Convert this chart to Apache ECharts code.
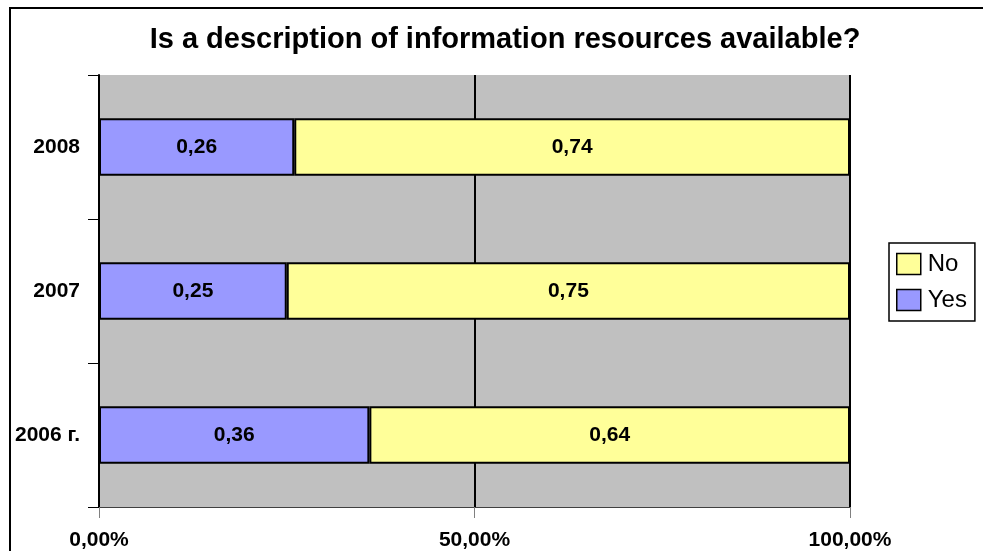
<!DOCTYPE html>
<html>
<head>
<meta charset="utf-8">
<script src="https://cdn.jsdelivr.net/npm/echarts@6/dist/echarts.min.js"></script>
<style>
  html, body { margin: 0; padding: 0; background: #fff; }
  #chart { width: 983px; height: 551px; }
</style>
</head>
<body>
<div id="chart"></div>
<script>
// data
const years = ['2006 г.', '2007', '2008']
const yesValues = [0.36, 0.25, 0.26]
const noValues = [0.64, 0.75, 0.74]
const tickValues = [0, 0.5, 1]

const fmtComma = v => v.toFixed(2).replace('.', ',')
const fmtPct = v => (v * 100).toFixed(2).replace('.', ',') + '%'

const chart = echarts.init(document.getElementById('chart'))

const barLabel = {
  show: true,
  position: 'inside',
  color: '#000',
  fontWeight: 'bold',
  fontSize: 21,
  fontFamily: 'Liberation Sans',
  formatter: p => fmtComma(p.value)
}

chart.setOption({
  animation: false,
  textStyle: { fontFamily: 'Liberation Sans' },
  title: {
    text: 'Is a description of information resources available?',
    left: 500,
    textAlign: 'center',
    top: 20,
    textStyle: { fontSize: 29, fontWeight: 'bold', color: '#000', fontFamily: 'Liberation Sans' }
  },
  // outer frame
  graphic: [{
    type: 'rect',
    shape: { x: 10, y: 8, width: 1000, height: 600 },
    style: { fill: 'none', stroke: '#000', lineWidth: 2 },
    silent: true
  }],
  legend: {
    orient: 'vertical',
    left: 889,
    top: 243,
    data: ['No', 'Yes'],
    icon: 'rect',
    itemWidth: 24,
    itemHeight: 21,
    itemGap: 12,
    padding: [9, 8, 9, 7],
    borderColor: '#000',
    borderWidth: 1.5,
    backgroundColor: '#fff',
    textStyle: { fontSize: 24, color: '#000', fontFamily: 'Liberation Sans', padding: [0, 0, 0, 2] },
    itemStyle: { borderColor: '#000', borderWidth: 1.5 }
  },
  grid: {
    left: 99, right: 133, top: 75, bottom: 44,
    show: true,
    backgroundColor: '#c0c0c0',
    borderWidth: 0
  },
  xAxis: {
    type: 'value',
    min: 0, max: 1, interval: 0.5,
    axisLine: { show: true, lineStyle: { color: '#404040', width: 1 } },
    axisTick: { show: true, length: 11, lineStyle: { color: '#808080' } },
    splitLine: { show: true, lineStyle: { color: '#000', width: 2 } },
    axisLabel: {
      margin: 23,
      color: '#000',
      fontWeight: 'bold',
      fontSize: 21,
      formatter: v => tickValues.includes(v) ? fmtPct(v) : ''
    }
  },
  yAxis: {
    type: 'category',
    data: years,
    axisLine: { show: true, lineStyle: { color: '#000', width: 2 } },
    axisTick: { show: true, length: 11, lineStyle: { color: '#000', width: 1 } },
    axisLabel: { margin: 19, color: '#000', fontWeight: 'bold', fontSize: 21 }
  },
  series: [
    {
      name: 'Yes',
      type: 'bar',
      stack: 'total',
      barWidth: '40%',
      data: yesValues,
      itemStyle: { color: '#9999ff', borderColor: '#000', borderWidth: 2 },
      label: barLabel
    },
    {
      name: 'No',
      type: 'bar',
      stack: 'total',
      barWidth: '40%',
      data: noValues,
      itemStyle: { color: '#ffff99', borderColor: '#000', borderWidth: 2 },
      label: barLabel
    }
  ]
})
</script>
</body>
</html>
